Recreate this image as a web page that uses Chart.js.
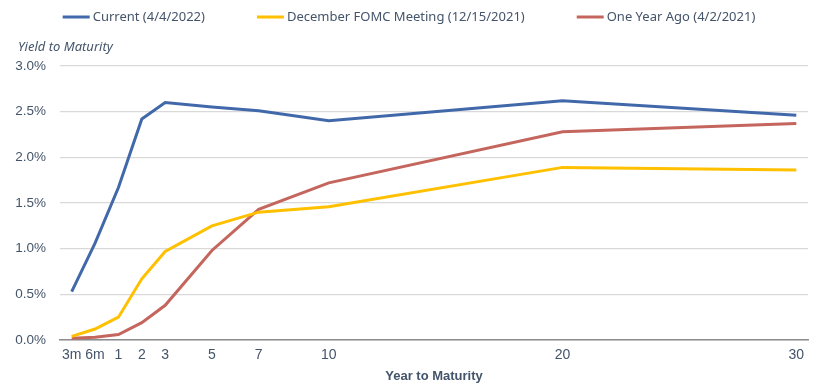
<!DOCTYPE html>
<html lang="en">
<head>
  <meta charset="UTF-8">
  <title>Treasury Yield Curve</title>
  <style>
    html, body { margin: 0; padding: 0; background: #ffffff; }
    #wrap { width: 818px; height: 387px; }
  </style>
</head>
<body>
  <div id="wrap"><canvas id="yieldChart" width="818" height="387"></canvas></div>

  <script src="https://cdn.jsdelivr.net/npm/chart.js"></script>
  <script>
    // maturities: 3m and 6m sit one step left of 1 year on the axis
    const maturityLabels = ['3m', '6m', '1', '2', '3', '5', '7', '10', '20', '30'];
    const maturityPos = [-1, 0, 1, 2, 3, 5, 7, 10, 20, 30];

    const currentYields = [0.53, 1.06, 1.67, 2.42, 2.60, 2.55, 2.51, 2.40, 2.62, 2.46];
    const decemberYields = [0.04, 0.12, 0.25, 0.67, 0.97, 1.25, 1.40, 1.46, 1.89, 1.86];
    const yearAgoYields = [0.02, 0.03, 0.06, 0.19, 0.38, 0.98, 1.43, 1.72, 2.28, 2.37];

    const seriesNames = ['Current (4/4/2022)', 'December FOMC Meeting (12/15/2021)', 'One Year Ago (4/2/2021)'];
    const seriesColors = ['#4169aa', '#ffc000', '#c4665d'];
    const textColor = '#44546a';

    function toPoints(vals) {
      return vals.map((v, i) => ({ x: maturityPos[i], y: v }));
    }

    function lineSet(label, vals, color) {
      return {
        label: label,
        data: toPoints(vals),
        borderColor: color,
        backgroundColor: color,
        borderWidth: 3,
        pointRadius: 0,
        tension: 0
      };
    }

    // legend row + italic y title, spaced wider than the built-in legend allows
    const topTexts = {
      id: 'topTexts',
      afterDraw(chart) {
        const c = chart.ctx;
        const items = chart.data.datasets;
        const sample = 27, gap = 3, spacing = 52;
        c.save();
        c.font = '13px "Noto Sans"';
        c.textBaseline = 'middle';
        const widths = items.map(d => sample + gap + c.measureText(d.label).width);
        const total = widths.reduce((a, b) => a + b, 0) + spacing * (items.length - 1);
        let x = chart.width / 2 - total / 2;
        const y = 17;
        items.forEach((d, i) => {
          c.strokeStyle = d.borderColor;
          c.lineWidth = 3;
          c.beginPath();
          c.moveTo(x, y);
          c.lineTo(x + sample, y);
          c.stroke();
          c.fillStyle = textColor;
          c.textAlign = 'left';
          c.fillText(d.label, x + sample + gap, y);
          x += widths[i] + spacing;
        });
        c.font = 'italic 13px "Noto Sans"';
        c.fillText('Yield to Maturity', 18, 47);
        c.restore();
      }
    };

    const ctx = document.getElementById('yieldChart').getContext('2d');
    new Chart(ctx, {
      type: 'line',
      data: {
        datasets: [
          lineSet(seriesNames[0], currentYields, seriesColors[0]),
          lineSet(seriesNames[1], decemberYields, seriesColors[1]),
          lineSet(seriesNames[2], yearAgoYields, seriesColors[2])
        ]
      },
      plugins: [topTexts],
      options: {
        responsive: false,
        animation: false,
        layout: { padding: { left: 0, right: 10, top: 66, bottom: 3 } },
        plugins: {
          legend: { display: false },
          title: { display: false },
          tooltip: { enabled: false }
        },
        scales: {
          x: {
            type: 'linear',
            min: -1.5,
            max: 30.5,
            afterBuildTicks: (axis) => {
              axis.ticks = maturityPos.map(v => ({ value: v }));
            },
            afterFit: (scale) => { scale.height = 44; },
            ticks: {
              autoSkip: false,
              maxRotation: 0,
              color: textColor,
              font: { family: 'Liberation Sans', size: 14 },
              padding: 7,
              callback: (v) => maturityLabels[maturityPos.indexOf(v)]
            },
            grid: { display: false, drawTicks: false },
            border: { display: true, color: '#8c8c8c', width: 1.5 },
            title: {
              display: true,
              text: 'Year to Maturity',
              color: textColor,
              font: { family: 'Liberation Sans', size: 13, weight: 'bold' },
              padding: { top: 4, bottom: 0 }
            }
          },
          y: {
            min: 0,
            max: 3,
            ticks: {
              stepSize: 0.5,
              color: textColor,
              font: { family: 'Liberation Sans', size: 13.5 },
              padding: 14,
              callback: (v) => v.toFixed(1) + '%'
            },
            afterFit: (scale) => { scale.width = 60; },
            grid: { color: '#d9d9d9', lineWidth: 1.2, drawTicks: false },
            border: { display: false }
          }
        }
      }
    });
  </script>
</body>
</html>
